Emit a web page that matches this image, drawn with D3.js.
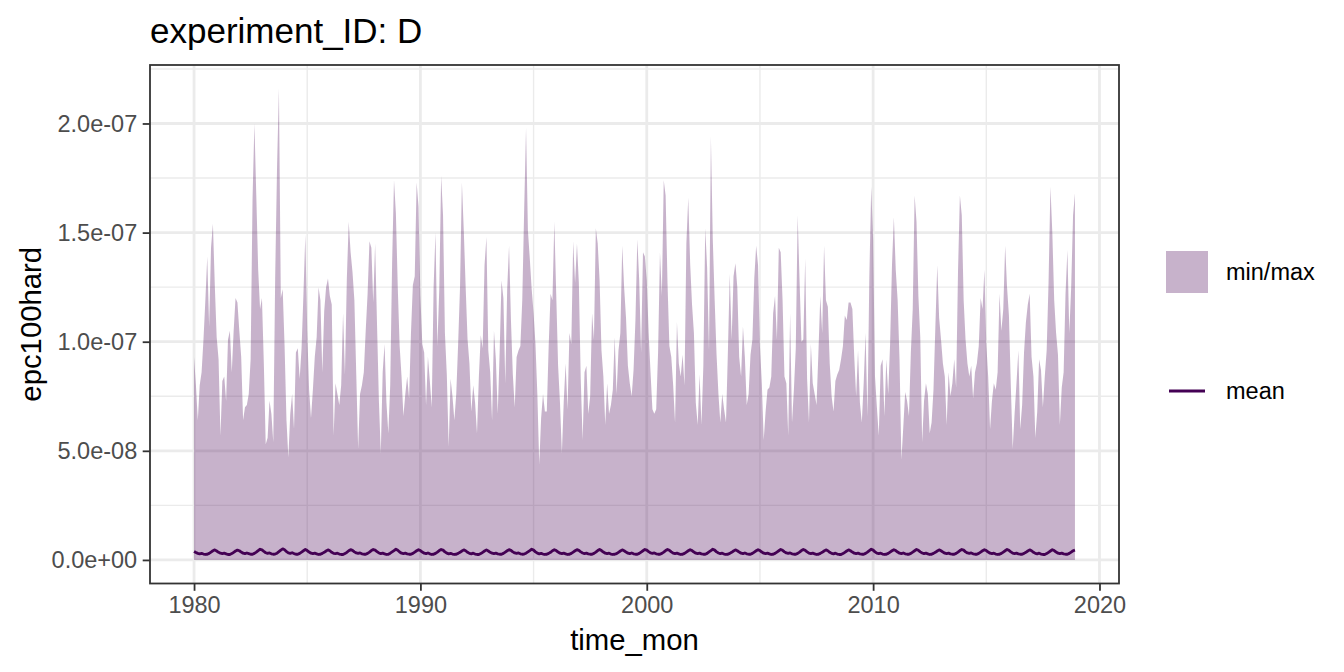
<!DOCTYPE html>
<html><head><meta charset="utf-8">
<script src="https://cdn.jsdelivr.net/npm/d3@7"></script>
<style>body{margin:0;background:#fff} text{font-family:"Liberation Sans",Arial,sans-serif}</style>
</head><body><svg id="c" width="1344" height="672"></svg>
<script>
// ---- data (values in units of 1e-9) ----
const startYear = 1980;
const unit = 1e-9;
const maxByYear = [
 [93,80,64,80,86,101,119,139,107,143,154,126],
 [102,92,57,82,84,73,101,105,86,105,120,118],
 [105,93,64,70,71,76,92,165,200,167,133,115],
 [120,90,53,56,73,67,54,129,180,216,120,124],
 [98,64,47,67,76,60,95,97,83,97,122,149],
 [105,78,65,78,93,102,125,119,86,114,125,129],
 [121,117,57,81,76,71,80,113,85,129,155,141],
 [132,119,85,51,76,80,86,105,122,146,143,118],
 [145,108,73,49,86,99,72,58,80,136,174,159],
 [125,98,84,66,76,84,74,104,126,130,173,162],
 [121,99,95,71,93,82,70,125,150,98,124,176],
 [158,104,85,52,83,75,64,76,99,125,173,151],
 [125,101,90,68,80,72,58,84,103,97,135,148],
 [96,86,64,105,92,67,95,128,120,81,124,144],
 [110,85,70,93,96,98,119,160,198,151,138,124],
 [113,99,76,44,65,76,68,68,98,122,119,155],
 [122,89,72,49,73,90,69,104,99,146,127,145],
 [127,83,55,86,89,67,75,113,101,152,145,128],
 [96,84,62,81,67,71,78,102,76,96,104,144],
 [125,111,89,81,75,87,110,147,128,95,141,139],
 [128,104,86,69,67,69,95,141,121,174,167,127],
 [98,93,80,63,109,90,84,94,80,145,166,136],
 [117,104,72,62,85,62,89,152,134,96,194,147],
 [119,94,76,63,76,69,63,95,131,101,130,136],
 [125,93,84,107,93,71,76,94,101,129,144,135],
 [98,81,55,68,78,79,84,113,121,101,143,141],
 [119,84,81,57,113,63,78,97,158,128,100,101],
 [138,83,63,99,81,76,71,95,121,104,144,119],
 [116,90,75,68,82,85,87,92,98,112,110,118],
 [118,115,93,75,96,72,63,81,104,66,130,171],
 [147,84,70,57,89,92,66,92,76,99,135,157],
 [133,119,92,46,61,77,73,66,95,115,167,155],
 [121,102,54,73,81,76,58,63,78,107,135,111],
 [101,90,84,62,86,75,81,92,79,132,167,158],
 [119,101,90,84,89,74,86,90,98,120,115,133],
 [99,84,60,73,81,78,86,122,105,115,144,125],
 [112,80,51,67,81,96,60,71,95,109,117,122],
 [93,84,56,68,92,87,70,84,96,127,171,150],
 [119,104,94,62,79,86,122,142,104,125,158,168]
];
const minValue = 0;
const meanByYear = [
 [3.9,3.4,3.0,2.8,3.0,2.7,2.5,2.6,3.0,3.6,4.2,4.6],
 [4.1,3.5,3.1,2.9,3.1,2.8,2.5,2.5,2.9,3.5,4.1,4.5],
 [4.2,3.6,3.1,2.9,3.2,2.9,2.6,2.6,3.0,3.6,4.3,4.9],
 [4.6,3.9,3.3,3.0,3.2,2.8,2.6,2.7,3.1,3.8,4.5,5.1],
 [4.7,3.8,3.2,3.0,3.3,2.9,2.6,2.6,3.0,3.6,4.2,4.8],
 [4.3,3.6,3.1,2.9,3.1,2.8,2.5,2.6,3.0,3.5,4.1,4.6],
 [4.2,3.5,3.0,2.9,3.1,2.7,2.5,2.5,2.9,3.5,4.2,4.7],
 [4.4,3.7,3.2,3.0,3.2,2.8,2.6,2.6,3.0,3.6,4.3,4.8],
 [4.5,3.8,3.2,2.9,3.1,2.8,2.5,2.6,3.1,3.7,4.3,4.9],
 [4.4,3.6,3.1,2.9,3.1,2.8,2.6,2.6,3.0,3.6,4.2,4.7],
 [4.3,3.6,3.1,2.9,3.2,2.8,2.5,2.6,3.0,3.6,4.3,4.8],
 [4.5,3.7,3.1,2.8,3.0,2.7,2.5,2.6,3.0,3.5,4.1,4.6],
 [4.2,3.5,3.0,2.8,3.1,2.7,2.5,2.5,2.9,3.5,4.1,4.6],
 [4.1,3.5,3.1,2.9,3.1,2.8,2.6,2.6,3.0,3.6,4.2,4.7],
 [4.4,3.7,3.2,3.0,3.2,2.8,2.6,2.7,3.1,3.7,4.3,4.9],
 [4.5,3.7,3.1,2.8,3.0,2.7,2.5,2.6,3.0,3.5,4.2,4.7],
 [4.3,3.6,3.1,2.9,3.1,2.8,2.5,2.6,3.0,3.6,4.2,4.7],
 [4.4,3.7,3.2,2.9,3.1,2.8,2.6,2.6,3.0,3.6,4.3,4.8],
 [4.3,3.6,3.1,2.9,3.1,2.7,2.5,2.6,2.9,3.5,4.1,4.6],
 [4.2,3.6,3.1,2.9,3.2,2.8,2.6,2.6,3.0,3.6,4.2,4.8],
 [4.5,3.8,3.2,3.0,3.2,2.8,2.6,2.6,3.0,3.6,4.3,4.8],
 [4.4,3.7,3.1,2.9,3.1,2.8,2.5,2.6,3.0,3.6,4.2,4.7],
 [4.3,3.6,3.1,2.9,3.1,2.8,2.6,2.6,3.0,3.7,4.3,4.9],
 [4.5,3.7,3.2,2.9,3.1,2.7,2.5,2.6,3.0,3.5,4.1,4.6],
 [4.2,3.6,3.1,2.9,3.2,2.8,2.6,2.6,3.0,3.6,4.2,4.7],
 [4.3,3.6,3.1,2.9,3.1,2.8,2.5,2.6,3.0,3.6,4.2,4.8],
 [4.4,3.7,3.2,3.0,3.2,2.8,2.6,2.6,3.0,3.6,4.3,4.8],
 [4.4,3.7,3.1,2.9,3.1,2.8,2.5,2.6,3.0,3.5,4.1,4.6],
 [4.2,3.5,3.0,2.8,3.1,2.7,2.5,2.5,2.9,3.5,4.1,4.6],
 [4.2,3.6,3.1,2.9,3.1,2.8,2.6,2.6,3.0,3.6,4.3,4.9],
 [4.5,3.7,3.1,2.9,3.1,2.7,2.5,2.6,3.0,3.6,4.2,4.7],
 [4.3,3.6,3.1,2.9,3.2,2.8,2.6,2.6,3.0,3.6,4.2,4.8],
 [4.4,3.7,3.2,2.9,3.1,2.8,2.5,2.6,3.0,3.5,4.1,4.6],
 [4.2,3.6,3.1,2.9,3.1,2.8,2.6,2.6,3.0,3.6,4.3,4.8],
 [4.5,3.7,3.2,3.0,3.2,2.8,2.6,2.6,3.0,3.6,4.2,4.7],
 [4.3,3.6,3.1,2.9,3.1,2.7,2.5,2.6,3.0,3.6,4.2,4.8],
 [4.4,3.7,3.1,2.9,3.1,2.8,2.6,2.6,3.0,3.5,4.1,4.6],
 [4.2,3.5,3.0,2.8,3.1,2.7,2.5,2.5,2.9,3.5,4.1,4.7],
 [4.3,3.6,3.1,2.9,3.1,2.8,2.6,2.6,3.0,3.6,4.2,4.5]
];
const xTicks = [1980, 1990, 2000, 2010, 2020];
const xTickLabels = ["1980", "1990", "2000", "2010", "2020"];
const yTicks = [0, 5e-8, 1e-7, 1.5e-7, 2e-7];
const yTickLabels = ["0.0e+00", "5.0e-08", "1.0e-07", "1.5e-07", "2.0e-07"];
const titleText = "experiment_ID: D";
const xTitle = "time_mon";
const yTitle = "epc100hard";
const legendLabels = ["min/max", "mean"];

// ---- build table ----
const rows = [];
maxByYear.forEach((yr, yi) => yr.forEach((v, mi) => {
  rows.push({t: startYear + yi + mi / 12, max: v * unit, min: minValue, mean: meanByYear[yi][mi] * unit});
}));

// ---- layout ----
const svg = d3.select("#c");
const P = {l: 150, r: 1119, t: 65, b: 583.5};
const col = "#440154";

const tExt = d3.extent(rows, d => d.t);
const tPad = (tExt[1] - tExt[0]) * 0.05;
const x = d3.scaleLinear().domain([tExt[0] - tPad, tExt[1] + tPad]).range([P.l, P.r]);
const yMax = d3.max(rows, d => d.max), yMin = d3.min(rows, d => d.min);
const yPad = (yMax - yMin) * 0.05;
const y = d3.scaleLinear().domain([yMin - yPad, yMax + yPad]).range([P.b, P.t]);

// minor breaks
const xStep = xTicks[1] - xTicks[0], yStep = yTicks[1] - yTicks[0];
const xMinor = [xTicks[0] - xStep / 2, ...xTicks.map(v => v + xStep / 2)].filter(v => v > x.domain()[0] && v < x.domain()[1]);
const yMinor = [yTicks[0] - yStep / 2, ...yTicks.map(v => v + yStep / 2)].filter(v => v > y.domain()[0] && v < y.domain()[1]);

const g = svg.append("g");
// grid
g.selectAll(".xm").data(xMinor).join("line").attr("x1", d => x(d)).attr("x2", d => x(d))
  .attr("y1", P.t).attr("y2", P.b).attr("stroke", "#EBEBEB").attr("stroke-width", 1.4);
g.selectAll(".ym").data(yMinor).join("line").attr("y1", d => y(d)).attr("y2", d => y(d))
  .attr("x1", P.l).attr("x2", P.r).attr("stroke", "#EBEBEB").attr("stroke-width", 1.4);
g.selectAll(".xM").data(xTicks).join("line").attr("x1", d => x(d)).attr("x2", d => x(d))
  .attr("y1", P.t).attr("y2", P.b).attr("stroke", "#EBEBEB").attr("stroke-width", 2.8);
g.selectAll(".yM").data(yTicks).join("line").attr("y1", d => y(d)).attr("y2", d => y(d))
  .attr("x1", P.l).attr("x2", P.r).attr("stroke", "#EBEBEB").attr("stroke-width", 2.8);

// ribbon
const area = d3.area().x(d => x(d.t)).y0(d => y(d.min)).y1(d => y(d.max));
g.append("path").datum(rows).attr("d", area).attr("fill", col).attr("fill-opacity", 0.3);
// mean line
const line = d3.line().x(d => x(d.t)).y(d => y(d.mean));
g.append("path").datum(rows).attr("d", line).attr("fill", "none").attr("stroke", col)
  .attr("stroke-width", 2.8).attr("stroke-linejoin", "round");

// panel border
g.append("rect").attr("x", P.l).attr("y", P.t).attr("width", P.r - P.l).attr("height", P.b - P.t)
  .attr("fill", "none").attr("stroke", "#333333").attr("stroke-width", 1.8);

// axes
const xAxis = d3.axisBottom(x).tickValues(xTicks).tickFormat((d, i) => xTickLabels[i]).tickSize(7.3).tickPadding(5.5);
const xa = svg.append("g").attr("transform", `translate(0,${P.b})`).call(xAxis);
const yAxis = d3.axisLeft(y).tickValues(yTicks).tickFormat((d, i) => yTickLabels[i]).tickSize(7.3).tickPadding(5.5);
const ya = svg.append("g").attr("transform", `translate(${P.l},0)`).call(yAxis);
[xa, ya].forEach(a => {
  a.select(".domain").remove();
  a.selectAll(".tick line").attr("stroke", "#333333").attr("stroke-width", 1.8);
  a.selectAll(".tick text").attr("fill", "#4D4D4D").style("font-size", "23.5px")
    .style("font-family", '"Liberation Sans",Arial,sans-serif');
});

// titles
svg.append("text").attr("x", P.l).attr("y", 43).text(titleText).style("font-size", "35px").attr("fill", "#000");
svg.append("text").attr("x", (P.l + P.r) / 2).attr("y", 650).attr("text-anchor", "middle")
  .text(xTitle).style("font-size", "29.3px").attr("fill", "#000");
svg.append("text").attr("transform", `translate(41,${(P.t + P.b) / 2}) rotate(-90)`).attr("text-anchor", "middle")
  .text(yTitle).style("font-size", "29.3px").attr("fill", "#000");

// legend
const lg = svg.append("g");
lg.append("rect").attr("x", 1166).attr("y", 251).attr("width", 42).attr("height", 42)
  .attr("fill", col).attr("fill-opacity", 0.3);
lg.append("text").attr("x", 1226).attr("y", 272).attr("dy", "0.35em").text(legendLabels[0]).style("font-size", "23.5px");
lg.append("line").attr("x1", 1169).attr("x2", 1205).attr("y1", 391).attr("y2", 391)
  .attr("stroke", col).attr("stroke-width", 2.8);
lg.append("text").attr("x", 1226).attr("y", 391).attr("dy", "0.35em").text(legendLabels[1]).style("font-size", "23.5px");
</script></body></html>
